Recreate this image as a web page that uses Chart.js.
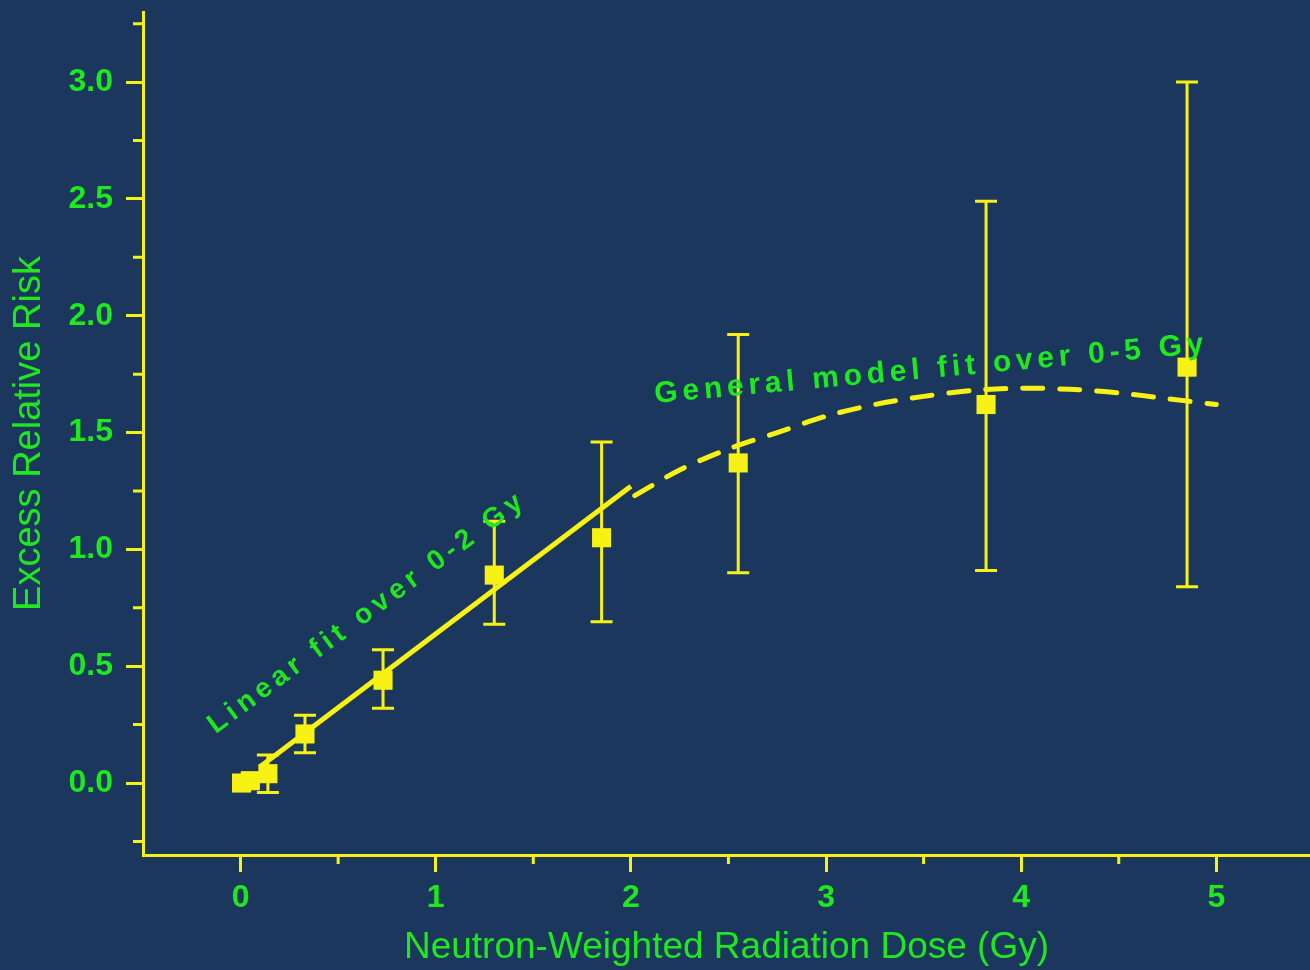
<!DOCTYPE html>
<html>
<head>
<meta charset="utf-8">
<script src="https://cdn.jsdelivr.net/npm/chart.js@4"></script>
<style>
  html, body { margin: 0; padding: 0; background: #1b375e; }
  canvas { display: block; }
</style>
</head>
<body>
<canvas id="riskChart" width="1310" height="970"></canvas>
<script>
// measured points (dose in Gy, excess relative risk) with error bar ends
const doseValues = [0.005, 0.05, 0.14, 0.33, 0.73, 1.30, 1.85, 2.55, 3.82, 4.85];
const errValues = [0.0, 0.01, 0.04, 0.21, 0.44, 0.89, 1.05, 1.37, 1.62, 1.78];
const errLow = [null, null, -0.04, 0.13, 0.32, 0.68, 0.69, 0.90, 0.91, 0.84];
const errHigh = [null, null, 0.12, 0.29, 0.57, 1.12, 1.46, 1.92, 2.49, 3.00];

// linear fit 0-2 Gy
const linearX = [0.10, 2.0];
const linearY = [0.07, 1.27];

// general model fit 0-5 Gy
const modelX = [2.02, 2.25, 2.5, 2.75, 3.0, 3.25, 3.5, 3.75, 4.0, 4.25, 4.5, 4.75, 5.0];
const modelY = [1.23, 1.34, 1.43, 1.50, 1.57, 1.62, 1.655, 1.68, 1.69, 1.685, 1.67, 1.645, 1.62];

const xTicks = [0, 1, 2, 3, 4, 5];
const xMinorTicks = [0.5, 1.5, 2.5, 3.5, 4.5];
const yTicks = [0, 0.5, 1.0, 1.5, 2.0, 2.5, 3.0];
const yMinorTicks = [-0.25, 0.25, 0.75, 1.25, 1.75, 2.25, 2.75, 3.25];

const YELLOW = '#f8f214';
const GREEN = '#1fe81f';
const FONT = '"Liberation Sans", Arial, sans-serif';

const toPoints = (xs, ys) => xs.map((x, i) => ({ x: x, y: ys[i] }));

// no extra padding around the plot for tick labels
function noPadding(scale) {
    scale.paddingTop = 0;
    scale.paddingBottom = 0;
    scale.paddingLeft = 0;
    scale.paddingRight = 0;
}

const extrasPlugin = {
    id: 'extras',
    beforeDatasetsDraw(chart) {
        const ctx = chart.ctx;
        const xs = chart.scales.x, ys = chart.scales.y;
        ctx.save();
        ctx.strokeStyle = YELLOW;
        ctx.lineWidth = 3;
        doseValues.forEach((d, i) => {
            if (errLow[i] === null) return;
            const px = xs.getPixelForValue(d);
            const lo = ys.getPixelForValue(errLow[i]);
            const hi = ys.getPixelForValue(errHigh[i]);
            ctx.beginPath();
            ctx.moveTo(px, lo); ctx.lineTo(px, hi);
            ctx.moveTo(px - 11, lo); ctx.lineTo(px + 11, lo);
            ctx.moveTo(px - 11, hi); ctx.lineTo(px + 11, hi);
            ctx.stroke();
        });
        ctx.restore();
    },
    afterDraw(chart) {
        const ctx = chart.ctx;
        const xs = chart.scales.x, ys = chart.scales.y;
        ctx.save();
        // minor ticks
        ctx.strokeStyle = YELLOW;
        ctx.lineWidth = 3;
        ctx.beginPath();
        xMinorTicks.forEach(v => {
            const px = xs.getPixelForValue(v);
            ctx.moveTo(px, xs.top); ctx.lineTo(px, xs.top + 9);
        });
        yMinorTicks.forEach(v => {
            const py = ys.getPixelForValue(v);
            ctx.moveTo(ys.right, py); ctx.lineTo(ys.right - 10, py);
        });
        ctx.stroke();

        // annotations
        ctx.fillStyle = GREEN;
        ctx.textAlign = 'center';
        ctx.textBaseline = 'middle';
        ctx.letterSpacing = '5px';
        ctx.font = 'bold 28px ' + FONT;
        ctx.save();
        ctx.translate(xs.getPixelForValue(0.65), ys.getPixelForValue(0.73));
        ctx.rotate(-36.5 * Math.PI / 180);
        ctx.fillText('Linear fit over 0-2 Gy', 0, 0);
        ctx.restore();

        ctx.letterSpacing = '4.8px';
        ctx.font = 'bold 30px ' + FONT;
        ctx.save();
        ctx.translate(xs.getPixelForValue(3.54), ys.getPixelForValue(1.77));
        ctx.rotate(-5.2 * Math.PI / 180);
        ctx.fillText('General model fit over 0-5 Gy', 0, 0);
        ctx.restore();
        ctx.restore();
    }
};

const ctx = document.getElementById('riskChart').getContext('2d');
new Chart(ctx, {
    type: 'scatter',
    data: {
        datasets: [
            {
                label: 'Linear fit',
                data: toPoints(linearX, linearY),
                showLine: true,
                borderColor: YELLOW,
                borderWidth: 5,
                pointRadius: 0
            },
            {
                label: 'General model',
                data: toPoints(modelX, modelY),
                showLine: true,
                borderColor: YELLOW,
                borderWidth: 5,
                borderDash: [20, 17],
                borderCapStyle: 'round',
                tension: 0.3,
                pointRadius: 0
            },
            {
                label: 'ERR',
                data: toPoints(doseValues, errValues),
                showLine: false,
                pointStyle: 'rect',
                pointRadius: 13.5,
                backgroundColor: YELLOW,
                borderColor: YELLOW,
                borderWidth: 0
            }
        ]
    },
    options: {
        responsive: false,
        animation: false,
        layout: { autoPadding: false, padding: { top: 12, right: 0, bottom: 0, left: 0 } },
        plugins: {
            legend: { display: false },
            tooltip: { enabled: false }
        },
        scales: {
            x: {
                type: 'linear',
                min: -0.5,
                max: 5.48,
                afterBuildTicks: scale => { scale.ticks = xTicks.map(v => ({ value: v })); },
                afterFit: scale => { scale.height = 115; noPadding(scale); },
                border: { display: true, color: YELLOW, width: 3 },
                grid: { drawOnChartArea: false, tickLength: 17, tickColor: YELLOW, tickWidth: 3 },
                ticks: {
                    color: GREEN,
                    padding: 7,
                    font: { family: FONT, size: 32, weight: 'bold' },
                    callback: v => String(v)
                },
                title: {
                    display: true,
                    text: 'Neutron-Weighted Radiation Dose (Gy)',
                    color: GREEN,
                    padding: { top: 0, bottom: 0 },
                    font: { family: FONT, size: 37 }
                }
            },
            y: {
                type: 'linear',
                min: -0.308,
                max: 3.3,
                afterBuildTicks: scale => { scale.ticks = yTicks.map(v => ({ value: v })); },
                afterFit: scale => { scale.width = 143; noPadding(scale); },
                border: { display: true, color: YELLOW, width: 3 },
                grid: { drawOnChartArea: false, tickLength: 17, tickColor: YELLOW, tickWidth: 3 },
                ticks: {
                    color: GREEN,
                    padding: 13,
                    font: { family: FONT, size: 32, weight: 'bold' },
                    callback: v => v.toFixed(1)
                },
                title: {
                    display: true,
                    text: 'Excess Relative Risk',
                    color: GREEN,
                    padding: { top: 7, bottom: 0 },
                    font: { family: FONT, size: 38 }
                }
            }
        }
    },
    plugins: [extrasPlugin]
});
</script>
</body>
</html>
